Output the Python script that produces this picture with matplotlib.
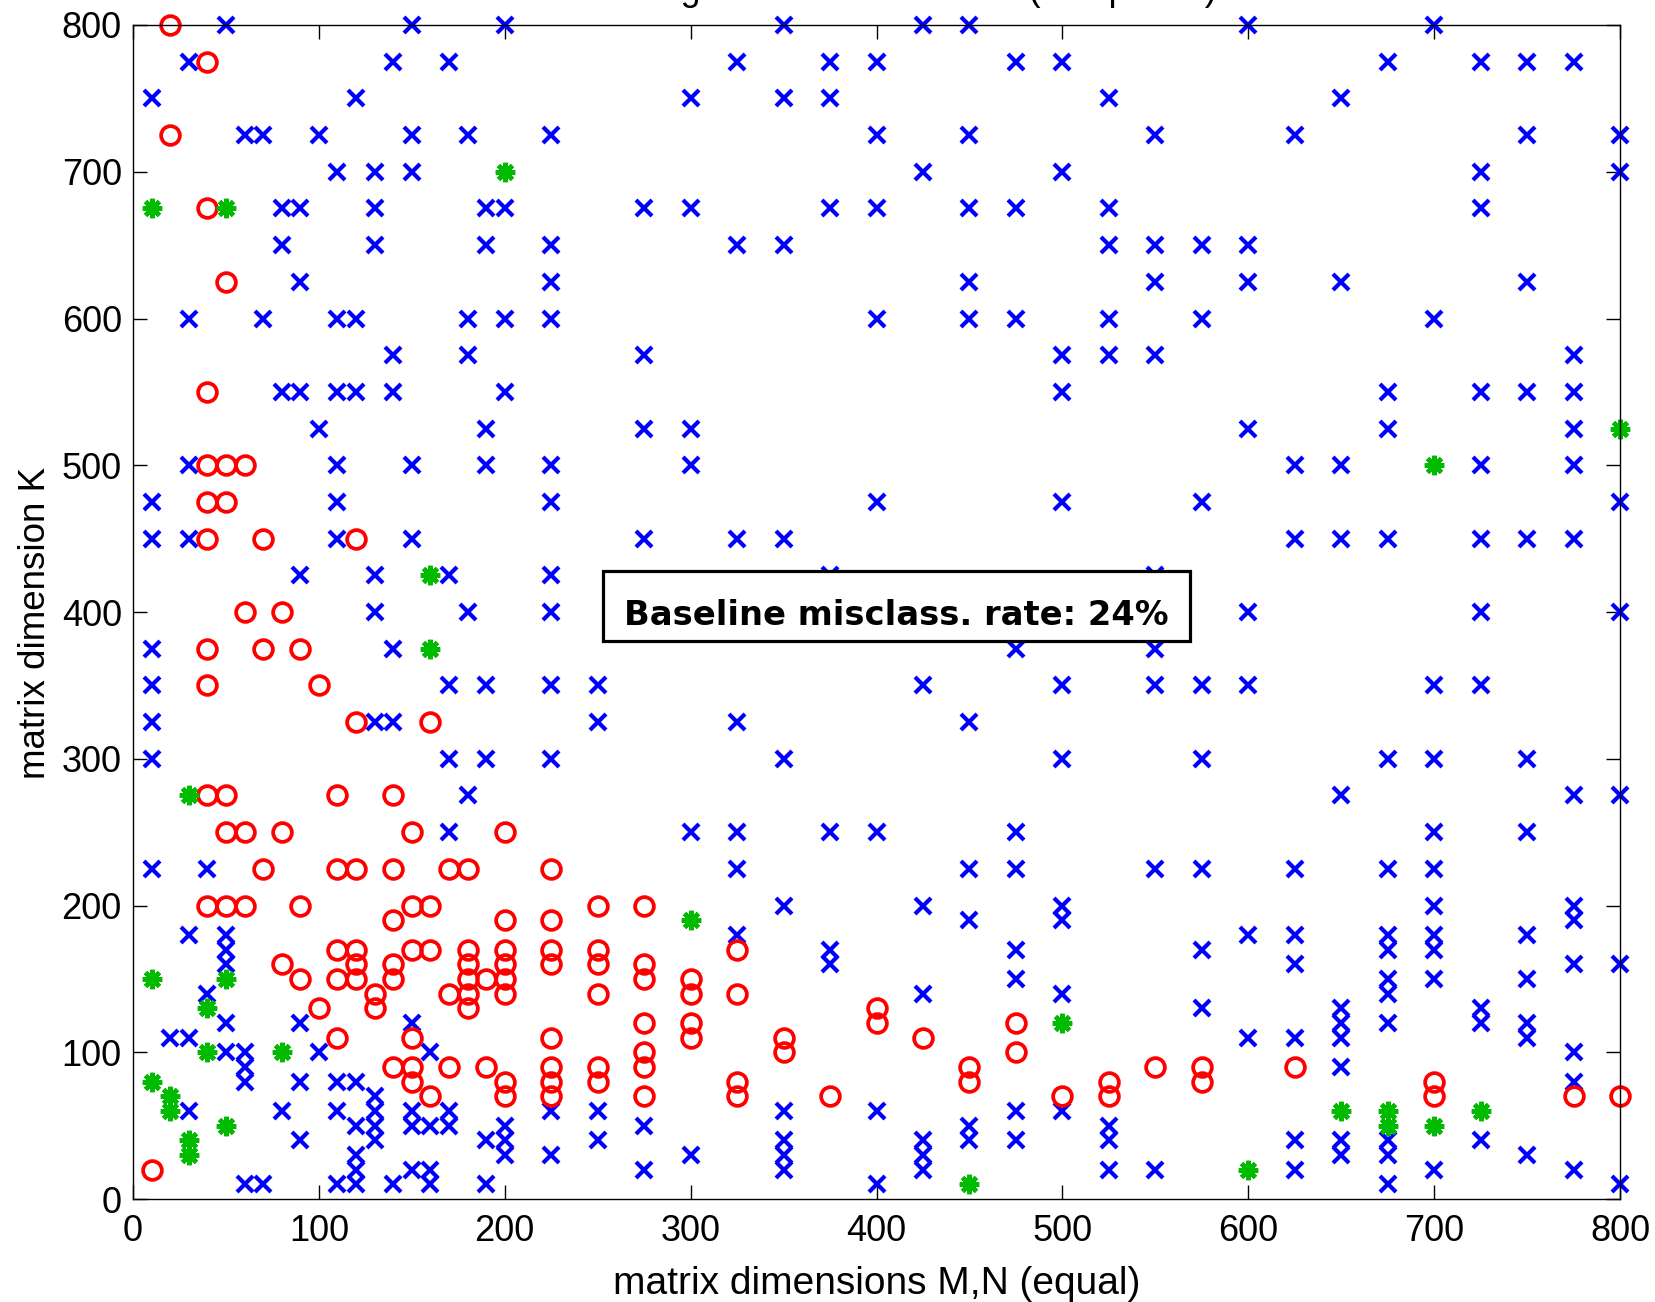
import numpy as np
import matplotlib
matplotlib.use("Agg")
import matplotlib.pyplot as plt
from matplotlib.patches import Rectangle

# points: (M,N , K)
blue_pts = [
    (50, 800), (150, 800), (200, 800), (350, 800), (425, 800), (450, 800), (600, 800), (700, 800),
    (30, 775), (140, 775), (170, 775), (325, 775), (375, 775), (400, 775), (475, 775), (500, 775),
    (675, 775), (725, 775), (750, 775), (775, 775),
    (10, 750), (120, 750), (300, 750), (350, 750), (375, 750), (525, 750), (650, 750),
    (60, 725), (70, 725), (100, 725), (150, 725), (180, 725), (225, 725), (400, 725), (450, 725),
    (550, 725), (625, 725), (750, 725), (800, 725),
    (110, 700), (130, 700), (150, 700), (425, 700), (500, 700), (725, 700), (800, 700),
    (80, 675), (90, 675), (130, 675), (190, 675), (200, 675), (275, 675), (300, 675), (375, 675),
    (400, 675), (450, 675), (475, 675), (525, 675), (725, 675),
    (80, 650), (130, 650), (190, 650), (225, 650), (325, 650), (350, 650), (525, 650), (550, 650),
    (575, 650), (600, 650),
    (90, 625), (225, 625), (450, 625), (550, 625), (600, 625), (650, 625), (750, 625),
    (30, 600), (70, 600), (110, 600), (120, 600), (180, 600), (200, 600), (225, 600), (400, 600),
    (450, 600), (475, 600), (525, 600), (575, 600), (700, 600),
    (140, 575), (180, 575), (275, 575), (500, 575), (525, 575), (550, 575), (775, 575),
    (80, 550), (90, 550), (110, 550), (120, 550), (140, 550), (200, 550), (500, 550), (675, 550),
    (725, 550), (750, 550), (775, 550),
    (100, 525), (190, 525), (275, 525), (300, 525), (600, 525), (675, 525), (775, 525),
    (30, 500), (110, 500), (150, 500), (190, 500), (225, 500), (300, 500), (625, 500), (650, 500),
    (725, 500), (775, 500),
    (10, 475), (110, 475), (225, 475), (400, 475), (500, 475), (575, 475), (800, 475),
    (10, 450), (30, 450), (110, 450), (150, 450), (275, 450), (325, 450), (350, 450), (625, 450),
    (650, 450), (675, 450), (725, 450), (750, 450), (775, 450),
    (90, 425), (130, 425), (170, 425), (225, 425), (375, 425), (550, 425),
    (130, 400), (180, 400), (225, 400), (600, 400), (725, 400), (800, 400),
    (10, 375), (140, 375), (475, 375), (550, 375),
    (10, 350), (170, 350), (190, 350), (225, 350), (250, 350), (425, 350), (500, 350), (550, 350),
    (575, 350), (600, 350), (700, 350), (725, 350),
    (10, 325), (130, 325), (140, 325), (250, 325), (325, 325), (450, 325),
    (10, 300), (170, 300), (190, 300), (225, 300), (350, 300), (500, 300), (575, 300), (675, 300),
    (700, 300), (750, 300),
    (180, 275), (650, 275), (775, 275), (800, 275),
    (170, 250), (300, 250), (325, 250), (375, 250), (400, 250), (475, 250), (700, 250), (750, 250),
    (10, 225), (40, 225), (325, 225), (450, 225), (475, 225), (550, 225), (575, 225), (625, 225),
    (675, 225), (700, 225),
    (350, 200), (425, 200), (500, 200), (700, 200), (775, 200),
    (450, 190), (500, 190), (775, 190),
    (30, 180), (50, 180), (325, 180), (600, 180), (625, 180), (675, 180), (700, 180), (750, 180),
    (50, 170), (375, 170), (475, 170), (575, 170), (675, 170), (700, 170),
    (50, 160), (375, 160), (625, 160), (775, 160), (800, 160),
    (475, 150), (675, 150), (700, 150), (750, 150),
    (40, 140), (425, 140), (500, 140), (675, 140),
    (575, 130), (650, 130), (725, 130),
    (50, 120), (90, 120), (150, 120), (650, 120), (675, 120), (725, 120), (750, 120),
    (20, 110), (30, 110), (600, 110), (625, 110), (650, 110), (750, 110),
    (50, 100), (60, 100), (100, 100), (160, 100), (775, 100),
    (60, 90), (650, 90),
    (60, 80), (90, 80), (110, 80), (120, 80), (775, 80),
    (130, 70),
    (30, 60), (80, 60), (110, 60), (130, 60), (150, 60), (170, 60), (225, 60), (250, 60),
    (350, 60), (400, 60), (475, 60), (500, 60),
    (120, 50), (130, 50), (150, 50), (160, 50), (170, 50), (200, 50), (275, 50), (450, 50), (525, 50),
    (90, 40), (130, 40), (190, 40), (200, 40), (250, 40), (350, 40), (425, 40), (450, 40),
    (475, 40), (525, 40), (625, 40), (650, 40), (675, 40), (725, 40),
    (120, 30), (200, 30), (225, 30), (300, 30), (350, 30), (425, 30), (650, 30), (675, 30), (750, 30),
    (120, 20), (150, 20), (160, 20), (275, 20), (350, 20), (425, 20), (525, 20), (550, 20),
    (625, 20), (700, 20), (775, 20),
    (60, 10), (70, 10), (110, 10), (120, 10), (140, 10), (160, 10), (190, 10), (400, 10),
    (675, 10), (800, 10),
]

red_pts = [
    (20, 800), (40, 775), (20, 725), (40, 675), (50, 625), (40, 550),
    (40, 500), (50, 500), (60, 500), (40, 475), (50, 475),
    (40, 450), (70, 450), (120, 450), (60, 400), (80, 400),
    (40, 375), (70, 375), (90, 375), (40, 350), (100, 350), (120, 325), (160, 325),
    (40, 275), (50, 275), (110, 275), (140, 275),
    (50, 250), (60, 250), (80, 250), (150, 250), (200, 250),
    (70, 225), (110, 225), (120, 225), (140, 225), (170, 225), (180, 225), (225, 225),
    (40, 200), (50, 200), (60, 200), (90, 200), (150, 200), (160, 200), (250, 200), (275, 200),
    (140, 190), (200, 190), (225, 190),
    (110, 170), (120, 170), (150, 170), (160, 170), (180, 170), (200, 170), (225, 170), (250, 170),
    (325, 170),
    (80, 160), (120, 160), (140, 160), (180, 160), (200, 160), (225, 160), (250, 160), (275, 160),
    (90, 150), (110, 150), (120, 150), (140, 150), (180, 150), (190, 150), (200, 150), (275, 150),
    (300, 150),
    (130, 140), (170, 140), (180, 140), (200, 140), (250, 140), (300, 140), (325, 140),
    (100, 130), (130, 130), (180, 130), (400, 130),
    (275, 120), (300, 120), (400, 120), (475, 120),
    (110, 110), (150, 110), (225, 110), (300, 110), (350, 110), (425, 110),
    (275, 100), (350, 100), (475, 100),
    (140, 90), (150, 90), (170, 90), (190, 90), (225, 90), (250, 90), (275, 90), (450, 90),
    (550, 90), (575, 90), (625, 90),
    (150, 80), (200, 80), (225, 80), (250, 80), (325, 80), (450, 80), (525, 80), (575, 80), (700, 80),
    (160, 70), (200, 70), (225, 70), (275, 70), (325, 70), (375, 70), (500, 70), (525, 70),
    (700, 70), (775, 70), (800, 70),
    (10, 20),
]

green_pts = [
    (200, 700), (10, 675), (50, 675), (800, 525), (700, 500), (160, 425), (160, 375),
    (30, 275), (300, 190), (10, 150), (50, 150), (40, 130), (500, 120),
    (40, 100), (80, 100), (10, 80), (20, 70), (20, 60), (650, 60), (675, 60), (725, 60),
    (50, 50), (675, 50), (700, 50), (30, 40), (30, 30), (600, 20), (450, 10),
]

baseline_text = "Baseline misclass. rate: 24%"
# only the descenders of the title survive the crop at the top edge
title_text = "Learning-based tile selection (test points)"

bx, by = np.array(blue_pts).T
rx, ry = np.array(red_pts).T
gx, gy = np.array(green_pts).T

plt.rcParams['font.family'] = ['Liberation Sans', 'DejaVu Sans']

fig = plt.figure(figsize=(16.56, 13.02), dpi=100)
ax = fig.add_axes([0.0803, 0.0791, 0.8980, 0.9017])

ax.plot(bx, by, 'x', color='#0000ff', ms=11, mew=3.0, clip_on=False)
ax.plot(rx, ry, 'o', color='#ff0000', mfc='none', ms=13.5, mew=2.7, clip_on=False)
ax.plot(gx, gy, marker=(8, 2, 0), ls='none', color='#00bb00', ms=14, mew=3.2, clip_on=False)

ax.set_xlim(0, 800)
ax.set_ylim(0, 800)
ax.set_xticks(np.arange(0, 801, 100))
ax.set_yticks(np.arange(0, 801, 100))
ax.tick_params(direction='in', length=10, width=1, top=True, right=True,
               labelsize=26)
ax.tick_params(axis='x', pad=11)
ax.tick_params(axis='y', pad=8)
for s in ax.spines.values():
    s.set_linewidth(1)

ax.set_xlabel("matrix dimensions M,N (equal)", fontsize=28, labelpad=12)
ax.set_ylabel("matrix dimension K", fontsize=26.5)
ax.yaxis.set_label_coords(-0.054, 0.491)

# baseline box
ax.add_patch(Rectangle((252.8, 380.4), 316.0, 47.5, fc='white', ec='black', lw=2.3, zorder=5))
ax.text(410.8, 391, baseline_text, ha='center', va='baseline', fontsize=24.3,
        fontweight='bold', family='DejaVu Sans', zorder=6)

fig.text(0.338, 1.0, title_text, ha='left', va='baseline', fontsize=26)

fig.savefig("out.png", dpi=100)
